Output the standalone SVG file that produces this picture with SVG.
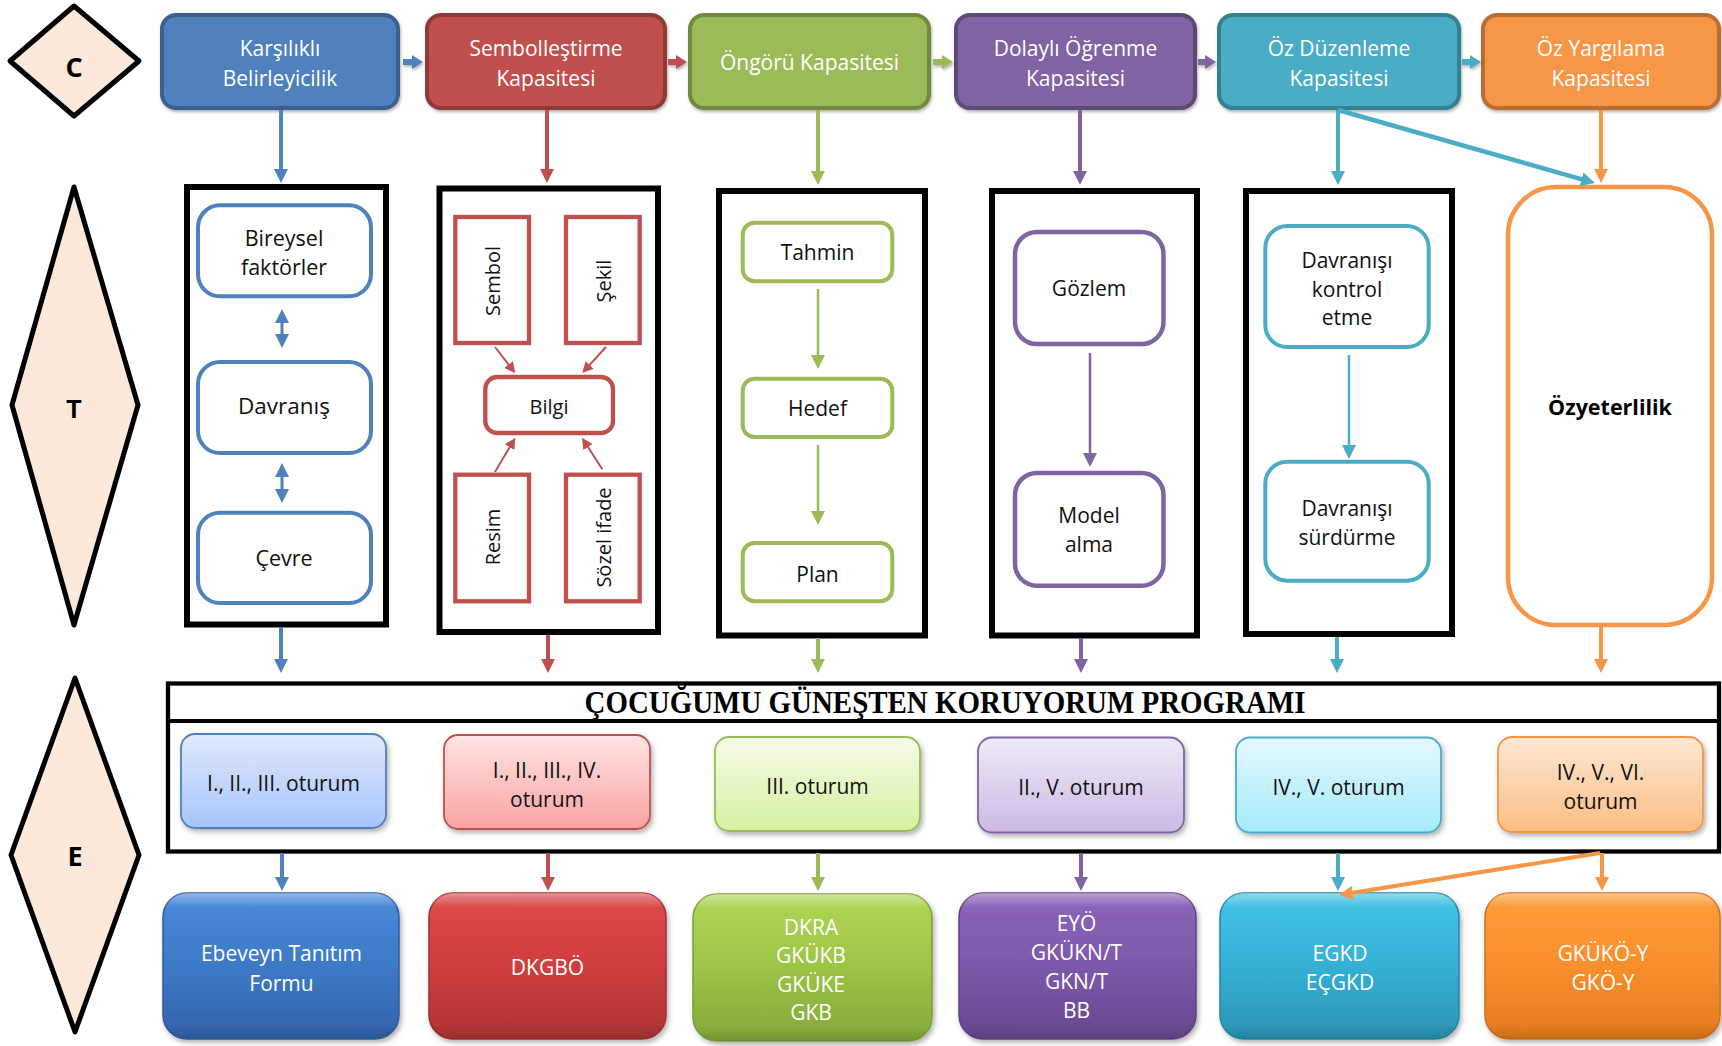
<svg xmlns="http://www.w3.org/2000/svg" width="1722" height="1046" viewBox="0 0 1722 1046">
<defs>
<style>
text{font-family:"Open Sans","Liberation Sans",sans-serif;text-anchor:middle}
.w{fill:#fff;font-size:21px}
.k{fill:#111;font-size:21px}
.lbl{font-weight:bold;fill:#000}
.dia{fill:#FDE9D9;stroke:#000;stroke-width:5;stroke-linejoin:round}
.frame{fill:#fff;stroke:#000;stroke-width:6}
.in{fill:#fff;stroke-width:4}
.top{stroke-width:4}
.ses{stroke-width:1.8}
.ins{stroke-width:1.5}
.sB{stroke:#4F81BD}.sR{stroke:#C0504D}.sG{stroke:#9BBB59}.sP{stroke:#8064A2}.sC{stroke:#4BACC6}.sO{stroke:#F79646}
.fB{fill:#4F81BD}.fR{fill:#C0504D}.fG{fill:#9BBB59}.fP{fill:#8064A2}.fC{fill:#4BACC6}.fO{fill:#F79646}
.ln{fill:none;stroke-width:4}
.thin{fill:none;stroke-width:2.5}
.title{font-family:"Liberation Serif","Times New Roman",serif;font-weight:bold;font-size:31px;fill:#000}
</style>
<marker id="mB" viewBox="0 0 14 14" markerWidth="14" markerHeight="14" refX="6" refY="7" orient="auto-start-reverse" markerUnits="userSpaceOnUse"><path d="M0,0L14,7L0,14z" fill="#4F81BD"/></marker>
<marker id="mR" viewBox="0 0 14 14" markerWidth="14" markerHeight="14" refX="6" refY="7" orient="auto-start-reverse" markerUnits="userSpaceOnUse"><path d="M0,0L14,7L0,14z" fill="#C0504D"/></marker>
<marker id="mr" viewBox="0 0 10 10" markerWidth="11" markerHeight="11" refX="4" refY="5" orient="auto" markerUnits="userSpaceOnUse"><path d="M0,0L10,5L0,10z" fill="#C0504D"/></marker>
<marker id="mG" viewBox="0 0 14 14" markerWidth="14" markerHeight="14" refX="6" refY="7" orient="auto" markerUnits="userSpaceOnUse"><path d="M0,0L14,7L0,14z" fill="#9BBB59"/></marker>
<marker id="mP" viewBox="0 0 14 14" markerWidth="14" markerHeight="14" refX="6" refY="7" orient="auto" markerUnits="userSpaceOnUse"><path d="M0,0L14,7L0,14z" fill="#8064A2"/></marker>
<marker id="mC" viewBox="0 0 14 14" markerWidth="14" markerHeight="14" refX="6" refY="7" orient="auto" markerUnits="userSpaceOnUse"><path d="M0,0L14,7L0,14z" fill="#4BACC6"/></marker>
<marker id="mO" viewBox="0 0 14 14" markerWidth="14" markerHeight="14" refX="6" refY="7" orient="auto" markerUnits="userSpaceOnUse"><path d="M0,0L14,7L0,14z" fill="#F79646"/></marker>
<filter id="sh" x="-10%" y="-10%" width="125%" height="135%"><feDropShadow dx="2" dy="3" stdDeviation="2.5" flood-color="#000" flood-opacity="0.3"/></filter>
<filter id="shs" x="-10%" y="-10%" width="125%" height="140%"><feDropShadow dx="1" dy="2" stdDeviation="1.5" flood-color="#000" flood-opacity="0.3"/></filter>
<linearGradient id="s1" x1="0" y1="0" x2="0" y2="1"><stop offset="0" stop-color="#E0EAFD"/><stop offset="1" stop-color="#A6C4FA"/></linearGradient>
<linearGradient id="s2" x1="0" y1="0" x2="0" y2="1"><stop offset="0" stop-color="#FFE4E4"/><stop offset="1" stop-color="#F9A3A1"/></linearGradient>
<linearGradient id="s3" x1="0" y1="0" x2="0" y2="1"><stop offset="0" stop-color="#F4FBE6"/><stop offset="1" stop-color="#D6F1A2"/></linearGradient>
<linearGradient id="s4" x1="0" y1="0" x2="0" y2="1"><stop offset="0" stop-color="#EFEAF7"/><stop offset="1" stop-color="#CBB9E4"/></linearGradient>
<linearGradient id="s5" x1="0" y1="0" x2="0" y2="1"><stop offset="0" stop-color="#E5F8FE"/><stop offset="1" stop-color="#A5EAFB"/></linearGradient>
<linearGradient id="s6" x1="0" y1="0" x2="0" y2="1"><stop offset="0" stop-color="#FEE8D4"/><stop offset="1" stop-color="#FBBE84"/></linearGradient>
<linearGradient id="i1" x1="0" y1="0" x2="0" y2="1"><stop offset="0" stop-color="#4A8BDB"/><stop offset="0.5" stop-color="#3D79C7"/><stop offset="1" stop-color="#3263A8"/></linearGradient>
<linearGradient id="i2" x1="0" y1="0" x2="0" y2="1"><stop offset="0" stop-color="#DF4A48"/><stop offset="0.5" stop-color="#CF3F3E"/><stop offset="1" stop-color="#AE3333"/></linearGradient>
<linearGradient id="i3" x1="0" y1="0" x2="0" y2="1"><stop offset="0" stop-color="#B0D655"/><stop offset="0.5" stop-color="#9CC445"/><stop offset="1" stop-color="#84A83A"/></linearGradient>
<linearGradient id="i4" x1="0" y1="0" x2="0" y2="1"><stop offset="0" stop-color="#8D66BC"/><stop offset="0.5" stop-color="#7C58AA"/><stop offset="1" stop-color="#67478E"/></linearGradient>
<linearGradient id="i5" x1="0" y1="0" x2="0" y2="1"><stop offset="0" stop-color="#42C4E8"/><stop offset="0.5" stop-color="#35B0D5"/><stop offset="1" stop-color="#2B93B3"/></linearGradient>
<linearGradient id="i6" x1="0" y1="0" x2="0" y2="1"><stop offset="0" stop-color="#FD9E3A"/><stop offset="0.5" stop-color="#F98F2C"/><stop offset="1" stop-color="#E27A1E"/></linearGradient>
<linearGradient id="hl" x1="0" y1="0" x2="0" y2="1"><stop offset="0" stop-color="#fff" stop-opacity="0.4"/><stop offset="0.1" stop-color="#fff" stop-opacity="0"/><stop offset="0.9" stop-color="#000" stop-opacity="0"/><stop offset="1" stop-color="#000" stop-opacity="0.12"/></linearGradient>
</defs>
<rect width="1722" height="1046" fill="#fff"/>

<!-- Left labels -->
<g id="label-C"><polygon class="dia" points="74,6 139,61 74,116 10,61"/><text x="74" y="77" class="lbl" style="font-size:27px">C</text></g>
<g id="label-T"><polygon class="dia" points="74,187 138,405 74,625 12,405"/><text x="74" y="418" class="lbl" style="font-family:'Liberation Sans',sans-serif;font-size:25px">T</text></g>
<g id="label-E"><polygon class="dia" points="75,678 139,855 75,1032 11,855"/><text x="75" y="866" class="lbl" style="font-size:27px">E</text></g>

<!-- Top capacity boxes -->
<g id="cap-1"><rect class="top fB" x="162" y="15" width="236" height="93" rx="14" stroke="#3A6190" filter="url(#shs)"/><text class="w" x="280" y="55.5">Karşılıklı</text><text class="w" x="280" y="85.5">Belirleyicilik</text></g>
<g id="cap-2"><rect class="top fR" x="427" y="15" width="238" height="93" rx="14" stroke="#8E3B39" filter="url(#shs)"/><text class="w" x="546" y="55.5">Sembolleştirme</text><text class="w" x="546" y="85.5">Kapasitesi</text></g>
<g id="cap-3"><rect class="top fG" x="690" y="15" width="239" height="93" rx="14" stroke="#728A40" filter="url(#shs)"/><text class="w" x="809.5" y="69.5">Öngörü Kapasitesi</text></g>
<g id="cap-4"><rect class="top fP" x="956" y="15" width="239" height="93" rx="14" stroke="#5D4977" filter="url(#shs)"/><text class="w" x="1075.5" y="55.5">Dolaylı Öğrenme</text><text class="w" x="1075.5" y="85.5">Kapasitesi</text></g>
<g id="cap-5"><rect class="top fC" x="1219" y="15" width="240" height="93" rx="14" stroke="#367F92" filter="url(#shs)"/><text class="w" x="1339" y="55.5">Öz Düzenleme</text><text class="w" x="1339" y="85.5">Kapasitesi</text></g>
<g id="cap-6"><rect class="top fO" x="1483" y="15" width="236" height="93" rx="14" stroke="#B86E32" filter="url(#shs)"/><text class="w" x="1601" y="55.5">Öz Yargılama</text><text class="w" x="1601" y="85.5">Kapasitesi</text></g>

<!-- T row -->
<g id="theory-1">
<rect class="frame" x="187" y="187" width="199" height="437.5"/>
<g id="n-bireysel"><rect class="in sB" x="198" y="205.3" width="173" height="91" rx="22"/><text class="k" x="284" y="245.5" style="font-size:21.5px">Bireysel</text><text class="k" x="284" y="274.5" style="font-size:21.5px">faktörler</text></g>
<g id="n-davranis"><rect class="in sB" x="198" y="362" width="173" height="91" rx="22"/><text class="k" x="284" y="414" style="font-size:22.5px">Davranış</text></g>
<g id="n-cevre"><rect class="in sB" x="198" y="512.7" width="173" height="90.3" rx="22"/><text class="k" x="284" y="565.5" style="font-size:21.5px">Çevre</text></g>
</g>
<g id="theory-2">
<rect class="frame" x="439.5" y="188.5" width="218.5" height="443.5"/>
<g id="n-sembol"><rect class="in sR" x="455.3" y="217" width="73.7" height="126" style="stroke-width:4.3"/><text class="k" transform="translate(500,281) rotate(-90)" style="font-size:20px">Sembol</text></g>
<g id="n-sekil"><rect class="in sR" x="566" y="217" width="73.7" height="126" style="stroke-width:4.3"/><text class="k" transform="translate(611,281) rotate(-90)" style="font-size:20px">Şekil</text></g>
<g id="n-bilgi"><rect class="in sR" x="485.3" y="377" width="127.7" height="56" rx="12" style="stroke-width:4.3"/><text class="k" x="549" y="413.5" style="font-size:20px">Bilgi</text></g>
<g id="n-resim"><rect class="in sR" x="455.3" y="474.7" width="73.7" height="126.6" style="stroke-width:4.3"/><text class="k" transform="translate(500,537) rotate(-90)" style="font-size:20px">Resim</text></g>
<g id="n-sozel"><rect class="in sR" x="566" y="474.7" width="73.7" height="126.6" style="stroke-width:4.3"/><text class="k" transform="translate(611,537.5) rotate(-90)" style="font-size:20px">Sözel ifade</text></g>
</g>
<g id="theory-3">
<rect class="frame" x="719" y="191" width="206" height="444.5"/>
<g id="n-tahmin"><rect class="in sG" x="742.7" y="222.7" width="149.6" height="58.6" rx="12"/><text class="k" x="817.5" y="260">Tahmin</text></g>
<g id="n-hedef"><rect class="in sG" x="742.7" y="378.7" width="149.6" height="58.3" rx="12"/><text class="k" x="817.5" y="416">Hedef</text></g>
<g id="n-plan"><rect class="in sG" x="742.7" y="543" width="149.6" height="58.3" rx="12"/><text class="k" x="817.5" y="581.5">Plan</text></g>
</g>
<g id="theory-4">
<rect class="frame" x="992" y="191" width="205" height="444.5"/>
<g id="n-gozlem"><rect class="in sP" x="1015" y="232" width="148.5" height="112" rx="22" style="stroke-width:4.5"/><text class="k" x="1089" y="296">Gözlem</text></g>
<g id="n-model"><rect class="in sP" x="1015" y="473" width="148.5" height="112.7" rx="22" style="stroke-width:4.5"/><text class="k" x="1089" y="523">Model</text><text class="k" x="1089" y="552">alma</text></g>
</g>
<g id="theory-5">
<rect class="frame" x="1246" y="191" width="206" height="443"/>
<g id="n-kontrol"><rect class="in sC" x="1265.3" y="226" width="163.4" height="121" rx="22"/><text class="k" x="1347" y="268">Davranışı</text><text class="k" x="1347" y="296.5">kontrol</text><text class="k" x="1347" y="325">etme</text></g>
<g id="n-surdurme"><rect class="in sC" x="1265.3" y="461.7" width="163.4" height="119" rx="22"/><text class="k" x="1347" y="516">Davranışı</text><text class="k" x="1347" y="545">sürdürme</text></g>
</g>
<g id="theory-6"><rect class="in sO" x="1508" y="187" width="204" height="438" rx="48" style="stroke-width:4.5"/><text class="k" x="1610" y="415" style="font-weight:bold;font-size:21.5px;fill:#000">Özyeterlilik</text></g>

<!-- Program -->
<g id="program">
<rect x="168" y="683.5" width="1551" height="168" fill="#fff" stroke="#000" stroke-width="4.3"/>
<line x1="168" y1="721" x2="1719" y2="721" stroke="#000" stroke-width="4"/>
<text class="title" x="945" y="713" textLength="721" lengthAdjust="spacingAndGlyphs">ÇOCUĞUMU GÜNEŞTEN KORUYORUM PROGRAMI</text>
</g>
<g id="session-1"><rect class="ses sB" x="181" y="734" width="205" height="94" rx="14" fill="url(#s1)" filter="url(#sh)"/><text class="k" x="283.5" y="790.5">I., II., III. oturum</text></g>
<g id="session-2"><rect class="ses sR" x="444" y="735" width="206" height="94" rx="14" fill="url(#s2)" filter="url(#sh)"/><text class="k" x="547" y="777.5">I., II., III., IV.</text><text class="k" x="547" y="806.5">oturum</text></g>
<g id="session-3"><rect class="ses sG" x="715" y="737" width="205" height="94" rx="14" fill="url(#s3)" filter="url(#sh)"/><text class="k" x="817.5" y="793.5">III. oturum</text></g>
<g id="session-4"><rect class="ses sP" x="978" y="737.5" width="206" height="95" rx="14" fill="url(#s4)" filter="url(#sh)"/><text class="k" x="1081" y="794.5">II., V. oturum</text></g>
<g id="session-5"><rect class="ses sC" x="1236" y="737.5" width="205" height="95" rx="14" fill="url(#s5)" filter="url(#sh)"/><text class="k" x="1338.5" y="794.5">IV., V. oturum</text></g>
<g id="session-6"><rect class="ses sO" x="1498" y="737" width="205" height="95" rx="14" fill="url(#s6)" filter="url(#sh)"/><text class="k" x="1600.5" y="779.5">IV., V., VI.</text><text class="k" x="1600.5" y="808.5">oturum</text></g>

<!-- Instruments -->
<g id="tool-1"><rect class="ins" x="163" y="893" width="236" height="146" rx="24" fill="url(#i1)" stroke="#2F5E9C" filter="url(#sh)"/><rect x="163" y="893" width="236" height="146" rx="24" fill="url(#hl)"/><text class="w" x="281.5" y="960.5">Ebeveyn Tanıtım</text><text class="w" x="281.5" y="990.5">Formu</text></g>
<g id="tool-2"><rect class="ins" x="429" y="893" width="237" height="146" rx="24" fill="url(#i2)" stroke="#A02E2E" filter="url(#sh)"/><rect x="429" y="893" width="237" height="146" rx="24" fill="url(#hl)"/><text class="w" x="547.5" y="974.5">DKGBÖ</text></g>
<g id="tool-3"><rect class="ins" x="693" y="894" width="239" height="147" rx="24" fill="url(#i3)" stroke="#7C9E35" filter="url(#sh)"/><rect x="693" y="894" width="239" height="147" rx="24" fill="url(#hl)"/><text class="w" x="811" y="934.5">DKRA</text><text class="w" x="811" y="963">GKÜKB</text><text class="w" x="811" y="991.5">GKÜKE</text><text class="w" x="811" y="1020">GKB</text></g>
<g id="tool-4"><rect class="ins" x="959" y="893" width="237" height="146" rx="24" fill="url(#i4)" stroke="#5F4282" filter="url(#sh)"/><rect x="959" y="893" width="237" height="146" rx="24" fill="url(#hl)"/><text class="w" x="1076.5" y="930.5">EYÖ</text><text class="w" x="1076.5" y="960">GKÜKN/T</text><text class="w" x="1076.5" y="989">GKN/T</text><text class="w" x="1076.5" y="1018">BB</text></g>
<g id="tool-5"><rect class="ins" x="1220" y="893" width="239" height="146" rx="24" fill="url(#i5)" stroke="#2787A5" filter="url(#sh)"/><rect x="1220" y="893" width="239" height="146" rx="24" fill="url(#hl)"/><text class="w" x="1340" y="960.5">EGKD</text><text class="w" x="1340" y="989.5">EÇGKD</text></g>
<g id="tool-6"><rect class="ins" x="1485" y="893" width="235" height="146" rx="24" fill="url(#i6)" stroke="#D0701B" filter="url(#sh)"/><rect x="1485" y="893" width="235" height="146" rx="24" fill="url(#hl)"/><text class="w" x="1603" y="960.5">GKÜKÖ-Y</text><text class="w" x="1603" y="989.5">GKÖ-Y</text></g>

<!-- Connectors -->
<g id="connectors">
<g filter="url(#shs)">
<path class="fB" d="M403,59h9v-4l11,7l-11,7v-4h-9z"/>
<path class="fR" d="M668,59h8v-4l11,7l-11,7v-4h-8z"/>
<path class="fG" d="M933,59h9v-4l11,7l-11,7v-4h-9z"/>
<path class="fP" d="M1198,59h7v-4l11,7l-11,7v-4h-7z"/>
<path class="fC" d="M1462,59h8v-4l11,7l-11,7v-4h-8z"/>
</g>
<line class="ln sB" x1="281" y1="110" x2="281" y2="175" marker-end="url(#mB)"/>
<line class="ln sR" x1="547" y1="110" x2="547" y2="175" marker-end="url(#mR)"/>
<line class="ln sG" x1="818" y1="110" x2="818" y2="177" marker-end="url(#mG)"/>
<line class="ln sP" x1="1080" y1="110" x2="1080" y2="177" marker-end="url(#mP)"/>
<line class="ln sC" x1="1338" y1="110" x2="1338" y2="177" marker-end="url(#mC)"/>
<line class="ln sO" x1="1601" y1="110" x2="1601" y2="175" marker-end="url(#mO)"/>
<line class="ln sC" x1="1338" y1="110" x2="1587.3" y2="180.8" marker-end="url(#mC)" style="stroke-width:4.5"/>

<line class="ln sB" x1="282" y1="317" x2="282" y2="340" marker-start="url(#mB)" marker-end="url(#mB)" style="stroke-width:3"/>
<line class="ln sB" x1="282" y1="471" x2="282" y2="495" marker-start="url(#mB)" marker-end="url(#mB)" style="stroke-width:3"/>
<line class="thin sR" x1="495" y1="347" x2="511.3" y2="368" marker-end="url(#mr)" style="stroke-width:2"/>
<line class="thin sR" x1="606" y1="347" x2="586.7" y2="368.2" marker-end="url(#mr)" style="stroke-width:2"/>
<line class="thin sR" x1="495" y1="472" x2="511.9" y2="443.4" marker-end="url(#mr)" style="stroke-width:2"/>
<line class="thin sR" x1="602.3" y1="469.3" x2="585.6" y2="443.3" marker-end="url(#mr)" style="stroke-width:2"/>
<line class="thin sG" x1="818" y1="289" x2="818" y2="361" marker-end="url(#mG)"/>
<line class="thin sG" x1="818" y1="445" x2="818" y2="517" marker-end="url(#mG)"/>
<line class="thin sP" x1="1090" y1="353" x2="1090" y2="459" marker-end="url(#mP)"/>
<line class="thin sC" x1="1349" y1="355" x2="1349" y2="451" marker-end="url(#mC)"/>

<line class="ln sB" x1="281" y1="627" x2="281" y2="665" marker-end="url(#mB)"/>
<line class="ln sR" x1="548" y1="635" x2="548" y2="665" marker-end="url(#mR)"/>
<line class="ln sG" x1="818" y1="638" x2="818" y2="665" marker-end="url(#mG)"/>
<line class="ln sP" x1="1081" y1="638" x2="1081" y2="665" marker-end="url(#mP)"/>
<line class="ln sC" x1="1337" y1="637" x2="1337" y2="665" marker-end="url(#mC)"/>
<line class="ln sO" x1="1601" y1="627" x2="1601" y2="665" marker-end="url(#mO)"/>

<line class="ln sB" x1="282" y1="853" x2="282" y2="883" marker-end="url(#mB)"/>
<line class="ln sR" x1="548" y1="853" x2="548" y2="883" marker-end="url(#mR)"/>
<line class="ln sG" x1="818" y1="853" x2="818" y2="883" marker-end="url(#mG)"/>
<line class="ln sP" x1="1081" y1="853" x2="1081" y2="883" marker-end="url(#mP)"/>
<line class="ln sC" x1="1338" y1="853" x2="1338" y2="883" marker-end="url(#mC)"/>
<line class="ln sO" x1="1602" y1="853" x2="1602" y2="883" marker-end="url(#mO)"/>
<line class="ln sO" x1="1600" y1="853" x2="1346.9" y2="893.7" marker-end="url(#mO)"/>
</g>
</svg>
